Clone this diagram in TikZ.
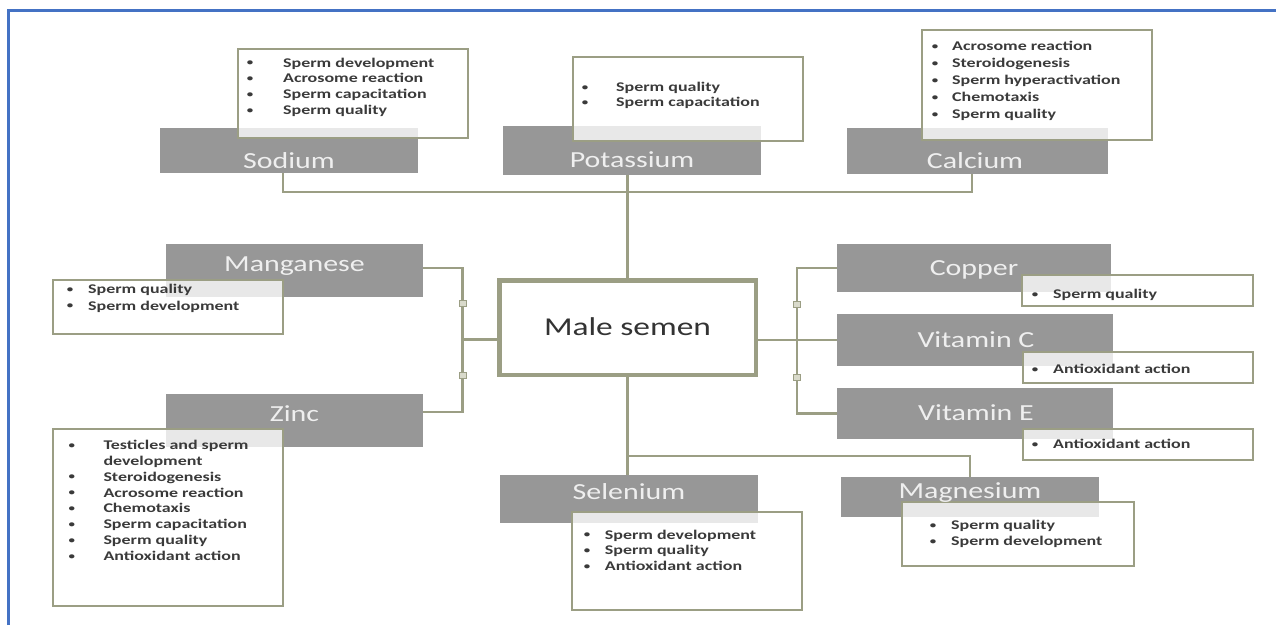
\documentclass[tikz,border=0pt]{standalone}
\usepackage{fontspec}
\setmainfont{Carlito}
\newfontfamily\labfont[FakeStretch=1.3]{Carlito}
\newfontfamily\bulfont[FakeStretch=1.35]{Carlito}
\usetikzlibrary{calc}
\definecolor{linecol}{HTML}{9B9E84}
\definecolor{boxgray}{HTML}{979797}
\definecolor{labtxt}{HTML}{EFEFEF}
\definecolor{bultxt}{HTML}{3A3A3A}
\definecolor{frameblue}{HTML}{4472C4}
\definecolor{sqfill}{HTML}{D9DACB}
\newcommand{\bl}{\makebox[0pt][c]{\raisebox{1.3pt}{\scalebox{0.72}{\textbullet}}}}
\newcommand{\lst}[3]{{\fontsize{13.3}{#2}\selectfont\begin{tabular}[t]{@{}l@{\hspace{#1pt}}l@{}}#3\end{tabular}}}
\tikzset{
  conn/.style={draw=linecol, line width=2.5pt},
  graybox/.style={fill=boxgray, inner sep=0pt, outer sep=0pt},
  detail/.style={draw=linecol, line width=2pt, fill=white, fill opacity=0.78, inner sep=0pt, outer sep=0pt},
  lab/.style={text=labtxt, inner sep=0pt, font=\labfont\fontsize{23}{26}\selectfont, anchor=base},
  listtxt/.style={text=bultxt, inner sep=0pt, anchor=base west, font=\bulfont\bfseries},
  mainbox/.style={draw=linecol, line width=4.5pt, fill=white, inner sep=0pt, outer sep=0pt},
  sq/.style={draw=linecol, fill=sqfill, line width=1pt, minimum width=7pt, minimum height=6pt, inner sep=0pt}
}
\begin{document}
\begin{tikzpicture}[x=1pt, y=-1pt]
\useasboundingbox (0,0) rectangle (1276,625);
% frame
\draw[frameblue, line width=2.2pt] (8.5,625) -- (8.5,10.5) -- (1276,10.5);

% main node
\node[mainbox, minimum width=256.5pt, minimum height=94.5pt] (male) at (627.5,327.5) {};

% gray boxes
\node[graybox, minimum width=258pt, minimum height=45pt] (sodium) at (289,150.5) {};
\node[graybox, minimum width=258pt, minimum height=49pt] (potassium) at (632,150.5) {};
\node[graybox, minimum width=261pt, minimum height=46pt] (calcium) at (977.5,151) {};
\node[graybox, minimum width=257pt, minimum height=53pt] (manganese) at (294.5,270.5) {};
\node[graybox, minimum width=257pt, minimum height=53pt] (zinc) at (294.5,420.5) {};
\node[graybox, minimum width=274pt, minimum height=48pt] (copper) at (974,268) {};
\node[graybox, minimum width=276pt, minimum height=52pt] (vitC) at (975,340) {};
\node[graybox, minimum width=276pt, minimum height=51pt] (vitE) at (975,413.5) {};
\node[graybox, minimum width=258pt, minimum height=48pt] (selenium) at (629,499) {};
\node[graybox, minimum width=258pt, minimum height=40pt] (magnesium) at (970,497) {};

% connectors
\coordinate (tb) at (627,192);
\draw[conn] ([xshift=-6pt]sodium.south) |- (tb) -| ([xshift=-5.5pt]calcium.south);
\draw[conn] (potassium.south -| male.north) -- (male.north);
\coordinate (lj) at (462.5,339.5);
\draw[conn] ([yshift=2.5pt]manganese.east) -| (lj) |- ([yshift=8.5pt]zinc.east);
\draw[conn] (lj) -- ([yshift=-12pt]male.west);
\coordinate (rj) at (797,340);
\draw[conn] (copper.west) -| (rj) |- (vitE.west);
\draw[conn] (vitC.west) -- (rj) -- ([yshift=-12.5pt]male.east);
\coordinate (bj) at (627.5,456);
\draw[conn] (male.south) -- (bj) -| (magnesium.north);
\draw[conn] (bj) -- (bj |- selenium.north);
\node[sq] (sq1) at (462.5,303) {};
\node[sq] (sq2) at (462.5,375) {};
\node[sq] (sq3) at (797,304) {};
\node[sq] (sq4) at (797,377) {};

% detail boxes
\node[detail, minimum width=230pt, minimum height=89pt] (sodiumD) at (353,93.5) {};
\node[detail, minimum width=230pt, minimum height=84pt] (potassiumD) at (688,99) {};
\node[detail, minimum width=230pt, minimum height=110pt] (calciumD) at (1037,85) {};
\node[detail, minimum width=230pt, minimum height=54pt] (manganeseD) at (168,307) {};
\node[detail, minimum width=230pt, minimum height=177pt] (zincD) at (168,517.5) {};
\node[detail, minimum width=231pt, minimum height=31pt] (copperD) at (1137.5,290.5) {};
\node[detail, minimum width=230pt, minimum height=31pt] (vitCD) at (1138,367.5) {};
\node[detail, minimum width=230pt, minimum height=31pt] (vitED) at (1138,444.5) {};
\node[detail, minimum width=230pt, minimum height=98pt] (seleniumD) at (687,561) {};
\node[detail, minimum width=232pt, minimum height=64pt] (magnesiumD) at (1018,534) {};

% labels
\node[lab] (sodiumL) at (289,168) {Sodium};
\node[lab] (potassiumL) at (632,167) {Potassium};
\node[lab] (calciumL) at (975,168) {Calcium};
\node[lab] (manganeseL) at (294.5,271) {Manganese};
\node[lab] (zincL) at (294.5,421) {Zinc};
\node[lab] (copperL) at (974,275) {Copper};
\node[lab] (vitCL) at (976,347) {Vitamin C};
\node[lab] (vitEL) at (976,420) {Vitamin E};
\node[lab] (seleniumL) at (629,499) {Selenium};
\node[lab] (magnesiumL) at (970,498) {Magnesium};
\node[inner sep=0pt, anchor=base, text=black!80, font=\labfont\fontsize{25.7}{30}\selectfont] (maleL) at (627.5,335) {Male semen};

% lists
\node[listtxt] (sodiumT) at (250,67) {\lst{33}{15.8}{\bl & Sperm development\\ \bl & Acrosome reaction\\ \bl & Sperm capacitation\\ \bl & Sperm quality}};
\node[listtxt] (potassiumT) at (585,91.5) {\lst{31}{15.3}{\bl & Sperm quality\\ \bl & Sperm capacitation}};
\node[listtxt] (calciumT) at (935,50.7) {\lst{17}{16.9}{\bl & Acrosome reaction\\ \bl & Steroidogenesis\\ \bl & Sperm hyperactivation\\ \bl & Chemotaxis\\ \bl & Sperm quality}};
\node[listtxt] (manganeseT) at (70,293.3) {\lst{18}{16.7}{\bl & Sperm quality\\ \bl & Sperm development}};
\node[listtxt] (zincT) at (71.7,449.3) {\lst{31.6}{15.9}{\bl & Testicles and sperm\\ & development\\ \bl & Steroidogenesis\\ \bl & Acrosome reaction\\ \bl & Chemotaxis\\ \bl & Sperm capacitation\\ \bl & Sperm quality\\ \bl & Antioxidant action}};
\node[listtxt] (copperT) at (1035,298.3) {\lst{18}{15.8}{\bl & Sperm quality}};
\node[listtxt] (vitCT) at (1035,373.3) {\lst{18}{15.8}{\bl & Antioxidant action}};
\node[listtxt] (vitET) at (1035,448.3) {\lst{18}{15.8}{\bl & Antioxidant action}};
\node[listtxt] (seleniumT) at (587,539) {\lst{17.7}{15.8}{\bl & Sperm development\\ \bl & Sperm quality\\ \bl & Antioxidant action}};
\node[listtxt] (magnesiumT) at (933,529.3) {\lst{18}{16.6}{\bl & Sperm quality\\ \bl & Sperm development}};
\end{tikzpicture}
\end{document}
